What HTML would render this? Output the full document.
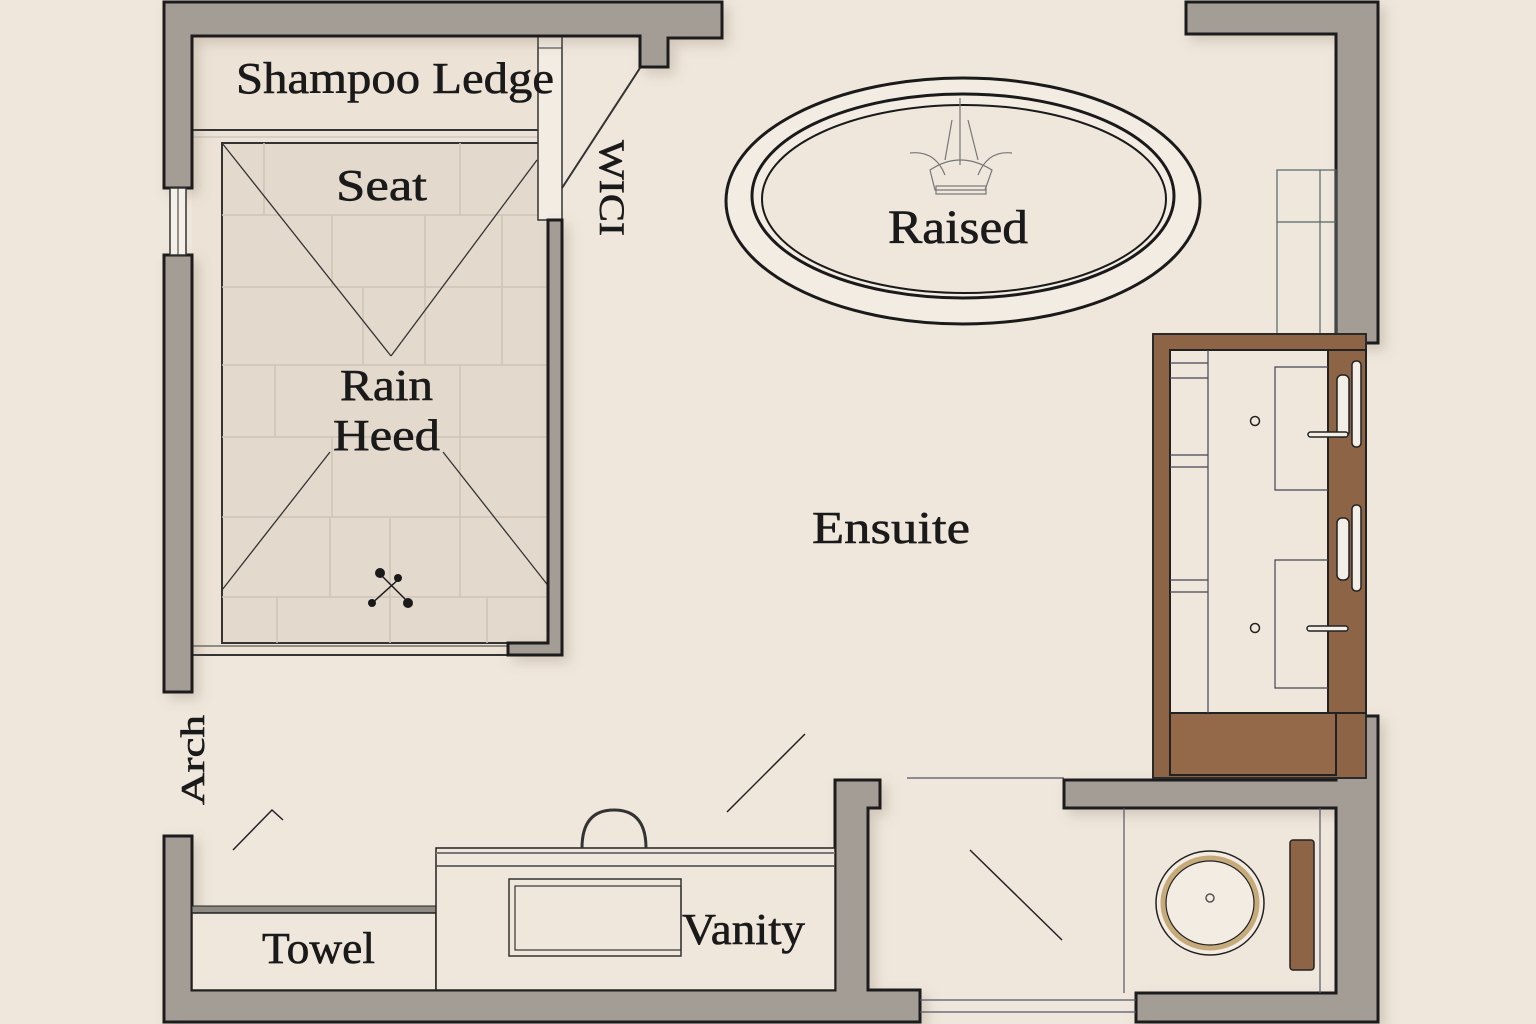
<!DOCTYPE html>
<html><head><meta charset="utf-8"><style>
html,body{margin:0;padding:0;background:#efe7dc;}
svg{display:block}
text{font-family:"Liberation Serif",serif;fill:#1a1a1a;stroke:#1a1a1a;stroke-width:0.6}
</style></head><body>
<svg width="1536" height="1024" viewBox="0 0 1536 1024" xmlns="http://www.w3.org/2000/svg">
<defs>
<filter id="sh" x="-10%" y="-10%" width="130%" height="130%"><feDropShadow dx="6" dy="6" stdDeviation="6" flood-color="#7a6a55" flood-opacity="0.25"/></filter>
</defs>
<rect width="1536" height="1024" fill="#efe7dc"/>
<rect x="192" y="36" width="370" height="620" fill="#ece3d6"/>
<rect x="222" y="143" width="328" height="500" fill="#e3d9cc" stroke="#333" stroke-width="2"/>
<g stroke="#cfc4b6" stroke-width="1.5" fill="none">
<line x1="222" y1="215" x2="550" y2="215"/><line x1="222" y1="287" x2="550" y2="287"/>
<line x1="222" y1="365" x2="550" y2="365"/><line x1="222" y1="437" x2="550" y2="437"/>
<line x1="222" y1="517" x2="550" y2="517"/><line x1="222" y1="597" x2="550" y2="597"/>
<line x1="264" y1="143" x2="264" y2="215"/><line x1="460" y1="143" x2="460" y2="215"/>
<line x1="332" y1="215" x2="332" y2="287"/><line x1="425" y1="215" x2="425" y2="287"/><line x1="502" y1="215" x2="502" y2="287"/>
<line x1="363" y1="287" x2="363" y2="365"/><line x1="425" y1="287" x2="425" y2="365"/><line x1="502" y1="287" x2="502" y2="365"/>
<line x1="275" y1="365" x2="275" y2="437"/><line x1="460" y1="365" x2="460" y2="437"/>
<line x1="332" y1="437" x2="332" y2="517"/><line x1="460" y1="437" x2="460" y2="517"/>
<line x1="330" y1="517" x2="330" y2="597"/><line x1="390" y1="517" x2="390" y2="597"/><line x1="460" y1="517" x2="460" y2="597"/>
<line x1="277" y1="597" x2="277" y2="643"/><line x1="390" y1="597" x2="390" y2="643"/><line x1="487" y1="597" x2="487" y2="643"/>
</g>
<g stroke="#333" stroke-width="1.3">
<line x1="222" y1="143" x2="391" y2="356"/><line x1="537" y1="160" x2="391" y2="356"/>
<line x1="330" y1="452" x2="222" y2="590"/><line x1="443" y1="452" x2="550" y2="588"/>
</g>
<line x1="192" y1="130" x2="540" y2="130" stroke="#333" stroke-width="2"/>
<line x1="192" y1="137" x2="540" y2="137" stroke="#bbb" stroke-width="1"/>
<line x1="192" y1="655" x2="508" y2="655" stroke="#333" stroke-width="2"/>
<line x1="192" y1="646" x2="508" y2="646" stroke="#333" stroke-width="1"/>
<rect x="538" y="36" width="24" height="184" fill="#f2ece2" stroke="#333" stroke-width="1.5"/>
<line x1="538" y1="48" x2="562" y2="48" stroke="#333" stroke-width="1"/>
<g fill="#a39d96" stroke="#1e1e1e" stroke-width="3" filter="url(#sh)">
<polygon points="164,2 722,2 722,38 668,38 668,67 640,67 640,36 192,36 192,188 164,188"/>
<rect x="164" y="255" width="28" height="437"/>
<polygon points="548,220 562,220 562,655 508,655 508,643 548,643"/>
<polygon points="1186,2 1378,2 1378,343 1336,343 1336,34 1186,34"/>
<polygon points="164,836 192,836 192,990 835,990 835,780 880,780 880,808 868,808 868,990 920,990 920,1022 164,1022"/>
<polygon points="1336,716 1378,716 1378,1022 1136,1022 1136,993 1336,993 1336,808 1064,808 1064,780 1336,780"/>
</g>
<rect x="170" y="188" width="16" height="67" fill="#f4efe7" stroke="#333" stroke-width="1.5"/>
<line x1="178" y1="188" x2="178" y2="255" stroke="#333" stroke-width="1"/>
<line x1="640" y1="68" x2="562" y2="188" stroke="#333" stroke-width="2"/>
<text transform="translate(600,140) rotate(90)" font-size="36" textLength="96" lengthAdjust="spacingAndGlyphs">WICI</text>
<g fill="none" stroke="#1a1a1a">
<ellipse cx="963" cy="201" rx="237" ry="123" stroke-width="3" fill="#f2ece3"/>
<ellipse cx="963" cy="196" rx="211" ry="102" stroke-width="3"/>
<ellipse cx="964" cy="199" rx="202" ry="94" stroke-width="2" fill="#efe7dc"/>
</g>
<g fill="none" stroke="#777" stroke-width="1.2">
<line x1="960" y1="98" x2="960" y2="165"/>
<path d="M952 120 L945 160 M968 120 L978 160"/>
<path d="M910 153 Q935 150 945 175 M1012 153 Q988 150 978 175"/>
<path d="M930 170 Q960 150 992 170 L985 190 L935 190 Z"/>
<rect x="936" y="186" width="50" height="8"/>
</g>
<text x="888" y="243" font-size="48" textLength="140" lengthAdjust="spacingAndGlyphs">Raised</text>
<g stroke="#566" stroke-width="1.2" fill="none">
<rect x="1277" y="170" width="59" height="166"/><line x1="1277" y1="222" x2="1336" y2="222"/><line x1="1320" y1="170" x2="1320" y2="336"/>
</g>
<rect x="1153" y="334" width="213" height="444" fill="#8e6446" stroke="#2a2a2a" stroke-width="2"/>
<rect x="1170" y="350" width="158" height="363" fill="#efe7dc" stroke="#222" stroke-width="2"/>
<rect x="1328" y="350" width="38" height="363" fill="#8e6446" stroke="#222" stroke-width="2"/>
<rect x="1170" y="713" width="166" height="62" fill="#93694a" stroke="#222" stroke-width="2"/>
<g stroke="#445" stroke-width="1.2" fill="none">
<line x1="1208" y1="350" x2="1208" y2="713"/>
<line x1="1170" y1="363" x2="1208" y2="363"/><line x1="1170" y1="378" x2="1208" y2="378"/>
<line x1="1170" y1="455" x2="1208" y2="455"/><line x1="1170" y1="467" x2="1208" y2="467"/>
<line x1="1170" y1="580" x2="1208" y2="580"/><line x1="1170" y1="592" x2="1208" y2="592"/>
<polyline points="1328,367 1275,367 1275,490 1328,490"/>
<polyline points="1328,560 1275,560 1275,688 1328,688"/>
</g>
<circle cx="1255" cy="421" r="4.5" fill="none" stroke="#222" stroke-width="1.5"/>
<circle cx="1255" cy="628" r="4.5" fill="none" stroke="#222" stroke-width="1.5"/>
<g fill="#f3eee6" stroke="#222" stroke-width="1.5">
<rect x="1337" y="375" width="12" height="62" rx="5"/><rect x="1352" y="361" width="9" height="86" rx="4"/>
<rect x="1337" y="518" width="12" height="62" rx="5"/><rect x="1352" y="505" width="9" height="86" rx="4"/>
<rect x="1308" y="432" width="40" height="5" rx="2.5"/><rect x="1307" y="626" width="41" height="5" rx="2.5"/>
</g>
<g stroke="#556" stroke-width="1.2">
<line x1="1124" y1="808" x2="1124" y2="993"/><line x1="1320" y1="808" x2="1320" y2="993"/>
<line x1="920" y1="1000" x2="1136" y2="1000"/><line x1="920" y1="1012" x2="1136" y2="1012"/>
<line x1="907" y1="778" x2="1064" y2="778"/>
</g>
<ellipse cx="1210" cy="903" rx="54" ry="52" fill="#f2ece3" stroke="#222" stroke-width="1.5"/>
<ellipse cx="1210" cy="903" rx="47" ry="45" fill="none" stroke="#c6aa7a" stroke-width="5"/>
<ellipse cx="1210" cy="903" rx="44" ry="42" fill="none" stroke="#222" stroke-width="1.2"/>
<circle cx="1210" cy="898" r="4" fill="none" stroke="#555" stroke-width="1.5"/>
<rect x="1290" y="840" width="24" height="130" rx="3" fill="#8e6446" stroke="#222" stroke-width="1.5"/>
<g stroke="#222" stroke-width="1.5" fill="none">
<line x1="970" y1="850" x2="1062" y2="940"/>
<line x1="727" y1="812" x2="805" y2="734"/>
<polyline points="233,850 272,810 283,820"/>
</g>
<rect x="192" y="906" width="244" height="7" fill="#8f8983" stroke="#222" stroke-width="1"/>
<rect x="192" y="913" width="244" height="77" fill="#efe7dc" stroke="#222" stroke-width="1.5"/>
<rect x="436" y="848" width="399" height="142" fill="#efe7dc" stroke="#222" stroke-width="1.5"/>
<line x1="436" y1="853" x2="835" y2="853" stroke="#777" stroke-width="2"/>
<line x1="436" y1="866" x2="835" y2="866" stroke="#444" stroke-width="1.5"/>
<rect x="509" y="879" width="172" height="77" fill="none" stroke="#333" stroke-width="1.5"/>
<rect x="515" y="886" width="166" height="64" fill="none" stroke="#333" stroke-width="1.2"/>
<path d="M582 848 Q582 810 614 810 Q646 810 646 848" fill="none" stroke="#333" stroke-width="3"/>
<text x="236" y="93" font-size="44" textLength="318" lengthAdjust="spacingAndGlyphs">Shampoo Ledge</text>
<text x="336" y="200" font-size="44" textLength="91" lengthAdjust="spacingAndGlyphs">Seat</text>
<text x="340" y="400" font-size="44" textLength="93" lengthAdjust="spacingAndGlyphs">Rain</text>
<text x="333" y="450" font-size="44" textLength="107" lengthAdjust="spacingAndGlyphs">Heed</text>
<text x="812" y="543" font-size="46" textLength="158" lengthAdjust="spacingAndGlyphs">Ensuite</text>
<text x="262" y="963" font-size="44" textLength="113" lengthAdjust="spacingAndGlyphs">Towel</text>
<text x="682" y="944" font-size="44" textLength="123" lengthAdjust="spacingAndGlyphs">Vanity</text>
<text transform="translate(204,805) rotate(-90)" font-size="34" textLength="90" lengthAdjust="spacingAndGlyphs">Arch</text>
<g fill="#1a1a1a"><circle cx="380" cy="573" r="5"/><circle cx="408" cy="603" r="5"/><circle cx="398" cy="578" r="4"/><circle cx="372" cy="603" r="4"/></g>
<g stroke="#1a1a1a" stroke-width="1.5"><line x1="378" y1="572" x2="410" y2="604"/><line x1="400" y1="578" x2="370" y2="605"/></g>
</svg>
</body></html>
